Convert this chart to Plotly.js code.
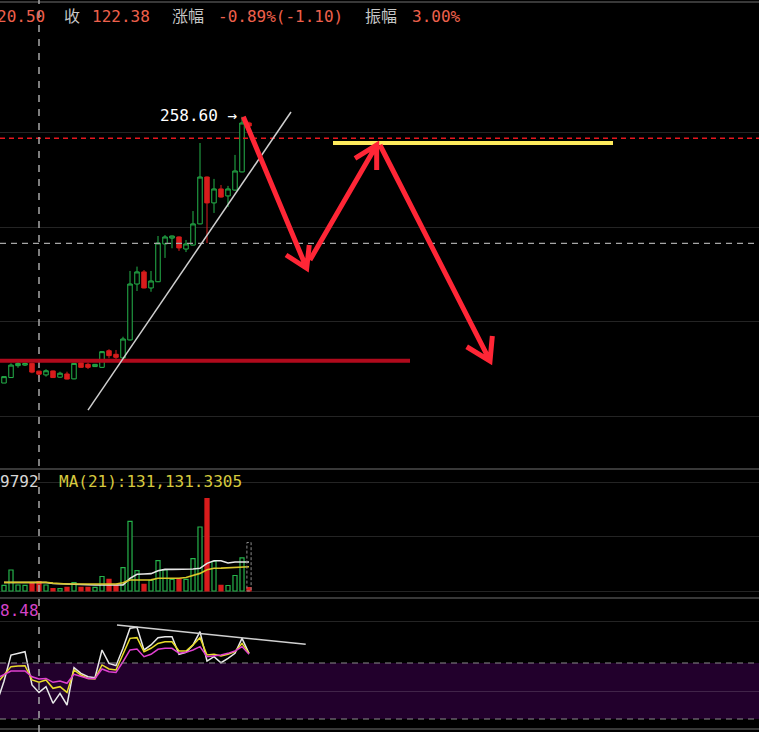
<!DOCTYPE html>
<html><head><meta charset="utf-8">
<script src="https://cdn.plot.ly/plotly-3.0.1.min.js"></script>
<style>html,body{margin:0;padding:0;background:#000;overflow:hidden}#chart{width:759px;height:732px}</style>
</head><body><div id="chart"></div>
<script>
// ---------------- data ----------------
const candleIndex = [0,1,2,3,4,5,6,7,8,9,10,11,12,13,14,15,16,17,18,19,20,21,22,23,24,25,26,27,28,29,30,31,32,33,34,35];
const openP  = [117.7,120.6,126.9,127.2,128.1,124.0,122.0,124.1,120.8,122.5,119.9,128.4,127.6,126.4,126.0,134.8,132.9,131.0,140.5,170.1,176.5,168.0,171.3,191.3,194.4,195.0,188.6,190.7,201.9,226.7,213.0,220.4,216.7,219.8,229.4,255.3];
const highP  = [121.1,128.1,129.0,128.5,128.5,124.2,125.0,124.3,123.7,123.7,128.3,128.8,128.5,127.8,134.6,135.6,135.2,142.2,177.0,179.3,177.5,177.0,195.5,196.0,195.7,195.3,193.4,208.7,244.7,227.0,225.7,222.5,222.0,238.4,258.6,256.0];
const lowP   = [117.7,120.6,125.8,126.7,122.9,120.5,121.1,120.4,120.6,119.6,119.7,125.8,125.1,126.2,125.8,130.8,129.0,130.8,140.3,166.4,167.8,166.0,171.1,183.9,189.0,187.6,187.0,190.5,201.7,191.8,207.7,215.8,210.8,219.5,229.2,253.0];
const closeP = [121.1,127.2,128.1,128.1,123.48,122.38,124.2,120.6,122.9,119.8,128.1,126.0,126.0,127.6,134.3,132.2,131.3,141.0,170.1,176.5,168.0,171.7,191.8,195.0,195.5,189.2,191.3,201.9,226.7,213.0,220.4,216.1,220.4,229.9,255.3,253.7];

const volume = [86,316,90,86,120,143,90,35,35,56,128,56,56,56,218,176,86,351,1049,306,101,161,456,316,176,181,176,488,963,1392,444,86,83,233,500,53];
const volProjected = 730;
const volMA21  = [130,131,131,131,132,131,131,118,106,105,105,104,104,104,105,105,106,125,166,166,166,168,191,191,192,193,203,229,265,321,342,344,348,352,358,366];
const volMAw   = [128,128,128,128,128,128,128,112,108,106,92,90,90,90,90,90,90,92,191,251,256,261,306,326,326,326,326,331,342,416,456,456,421,436,436,436];

const rsiIndex = [-1,0,1,2,3,4,5,6,7,8,9,10,11,12,13,14,15,16,17,18,19,20,21,22,23,24,25,26,27,28,29,30,31,32,33,34,35];
const rsiWhite  = [42,57,75.7,76.7,78.1,54.3,49.0,53.1,41.2,48.3,40.0,66.7,62.6,60.2,59.5,79.3,69.8,68.1,80.5,94.8,95.5,79.3,82.9,88.1,88.8,88.8,76.2,77.6,82.9,92.4,71.4,74.5,70.2,73.3,76.9,87.6,76.9];
const rsiYellow = [55.5,61.1,67.4,67.8,68.1,57.9,56.2,57.9,51.9,53.1,49.0,65.0,61.4,59.0,58.6,68.6,65.7,65.0,75.7,87.6,88.1,78.1,80.5,84.0,85.2,85.2,78.6,78.6,82.9,88.1,75.7,76.2,75.0,76.2,78.1,84.0,76.9];
const rsiMagenta= [59.2,61.6,64.3,64.3,64.3,60.2,58.6,59.0,56.2,57.1,55.5,61.9,60.2,59.0,59.0,65.7,63.8,63.3,70.9,79.3,80.0,74.5,76.2,79.8,80.5,80.5,76.9,77.6,79.3,81.7,74.5,75.0,75.7,76.9,78.6,81.7,76.2];

const cursorIndex = 5;
const redDashLevel = 247.2;
const greyDashLevel = 191.6;
const supportLevel = 129.5;
const resistLevel = 244.7;
const rsiUpper = 70, rsiLower = 30;

const headerItems = [
  ['20.50', -5, 'v'], ['收', 62, 'l'], ['122.38', 90, 'v'], ['涨幅', 170, 'l'],
  ['-0.89%(-1.10)', 216, 'v'], ['振幅', 363, 'l'], ['3.00%', 410, 'v']
];
const volLabels = [['9792', -2, '#d6d6d6'], ['MA(21):131,131.3305', 57, '#d6c93e']];
const rsiLabels = [['8.48', -2, '#d443c8']];

// ---------------- helpers ----------------
const W = 759, H = 732;
const PX = p => p / W;
const PY = p => 1 - p / H;
const GREEN = '#25b34b', RED = '#d81c1c';
const MONO = 'DejaVu Sans Mono, Noto Sans CJK SC, monospace';

const isUp = candleIndex.map((_, i) => closeP[i] >= openP[i]);

const traces = [
  {
    type: 'candlestick', x: candleIndex, open: openP, high: highP, low: lowP, close: closeP,
    xaxis: 'x', yaxis: 'y', whiskerwidth: 0,
    increasing: {line: {color: GREEN, width: 1}, fillcolor: '#000'},
    decreasing: {line: {color: RED, width: 1}, fillcolor: RED},
    hoverinfo: 'skip', showlegend: false
  },
  {
    type: 'bar', x: candleIndex, y: volume, xaxis: 'x', yaxis: 'y2', width: 0.58,
    marker: {color: isUp.map(u => u ? '#000' : RED), line: {color: isUp.map(u => u ? GREEN : RED), width: 1.2}},
    hoverinfo: 'skip', showlegend: false
  },
  {type: 'scatter', mode: 'lines', x: candleIndex, y: volMAw, xaxis: 'x', yaxis: 'y2',
   line: {color: '#e6e6e6', width: 1.6}, hoverinfo: 'skip', showlegend: false},
  {type: 'scatter', mode: 'lines', x: candleIndex, y: volMA21, xaxis: 'x', yaxis: 'y2',
   line: {color: '#d9c62a', width: 1.6}, hoverinfo: 'skip', showlegend: false},
  {type: 'scatter', mode: 'lines', x: rsiIndex, y: rsiWhite, xaxis: 'x', yaxis: 'y3',
   line: {color: '#e8e8e8', width: 1.5}, hoverinfo: 'skip', showlegend: false},
  {type: 'scatter', mode: 'lines', x: rsiIndex, y: rsiYellow, xaxis: 'x', yaxis: 'y3',
   line: {color: '#e8dc2a', width: 1.5}, hoverinfo: 'skip', showlegend: false},
  {type: 'scatter', mode: 'lines', x: rsiIndex, y: rsiMagenta, xaxis: 'x', yaxis: 'y3',
   line: {color: '#e040d0', width: 1.5}, hoverinfo: 'skip', showlegend: false}
];

const lastI = candleIndex[candleIndex.length - 1];
let maxI = 0; highP.forEach((h, i) => { if (h > highP[maxI]) maxI = i; });

const shapes = [];
// panel borders
[2, 469, 598, 729].forEach(p => shapes.push({type: 'line', xref: 'paper', yref: 'paper', x0: 0, x1: 1, y0: PY(p), y1: PY(p), line: {color: '#383838', width: 2}, layer: 'below'}));
// RSI band
shapes.push({type: 'rect', xref: 'paper', yref: 'y3', x0: 0, x1: 1, y0: rsiLower, y1: rsiUpper, fillcolor: '#22002c', line: {width: 0}, layer: 'below'});
[rsiUpper, rsiLower].forEach(v => shapes.push({type: 'line', xref: 'paper', yref: 'y3', x0: 0, x1: 1, y0: v, y1: v, line: {color: '#8a8a8a', width: 1, dash: '6px,5px'}}));
// price dashed levels
shapes.push({type: 'line', xref: 'paper', yref: 'y', x0: 0, x1: 1, y0: redDashLevel, y1: redDashLevel, line: {color: '#e8161e', width: 1.4, dash: '5px,4px'}});
shapes.push({type: 'line', xref: 'paper', yref: 'y', x0: 0, x1: 1, y0: greyDashLevel, y1: greyDashLevel, line: {color: '#a6a6a6', width: 1.3, dash: '6px,5px'}});
// cursor
shapes.push({type: 'line', xref: 'x', yref: 'paper', x0: cursorIndex, x1: cursorIndex, y0: 0, y1: 1, line: {color: '#a8a8a8', width: 1.5, dash: '7px,7px'}});
// support / resistance
shapes.push({type: 'line', xref: 'x', yref: 'y', x0: -3, x1: 58, y0: supportLevel, y1: supportLevel, line: {color: '#b00a1c', width: 4}});
shapes.push({type: 'line', xref: 'x', yref: 'y', x0: 47, x1: 87, y0: resistLevel, y1: resistLevel, line: {color: '#fdea5c', width: 4}});
// trend line
shapes.push({type: 'line', xref: 'x', yref: 'y', x0: 12, y0: 103.4, x1: 41, y1: 261.1, line: {color: '#cfcfcf', width: 1.5}});
// red arrows
const arrowPaths = [
  'M34.19,258.6 L43.24,178.4 M40.29,185.45 L43.24,178.4 L43.61,190.7',
  'M43.71,182.8 L53.24,243.65 M50.14,236.6 L53.24,243.65 L53.24,230.4',
  'M53.71,243.65 L69.43,129.4 M66.1,136.9 L69.43,129.4 L69.76,142.6'
];
arrowPaths.forEach(p => shapes.push({type: 'path', xref: 'x', yref: 'y', path: p, line: {color: '#ff2636', width: 5}}));
// RSI trend line
shapes.push({type: 'line', xref: 'x', yref: 'y3', x0: 16.14, y0: 97.1, x1: 43.1, y1: 83.4, line: {color: '#d0d0d0', width: 1.5}});
// projected volume
shapes.push({type: 'rect', xref: 'x', yref: 'y2', x0: lastI - 0.3, x1: lastI + 0.3, y0: 0, y1: volProjected, line: {color: '#8c8c8c', width: 1, dash: '3px,2px'}});

const annotations = [];
headerItems.forEach(([t, px, k]) => annotations.push({xref: 'paper', yref: 'paper', x: PX(px), y: PY(17), xanchor: 'left', yanchor: 'middle', showarrow: false, text: t,
  font: {family: MONO, size: 16, color: k === 'v' ? '#ee604c' : '#c6c6c6'}}));
volLabels.forEach(([t, px, c]) => annotations.push({xref: 'paper', yref: 'paper', x: PX(px), y: PY(482), xanchor: 'left', yanchor: 'middle', showarrow: false, text: t, font: {family: MONO, size: 16, color: c}}));
rsiLabels.forEach(([t, px, c]) => annotations.push({xref: 'paper', yref: 'paper', x: PX(px), y: PY(610), xanchor: 'left', yanchor: 'middle', showarrow: false, text: t, font: {family: MONO, size: 16, color: c}}));
annotations.push({xref: 'x', yref: 'y', x: candleIndex[maxI], y: highP[maxI], xanchor: 'right', yanchor: 'middle', xshift: -3, yshift: 1, showarrow: false,
  text: highP[maxI].toFixed(2) + ' →', font: {family: MONO, size: 16, color: '#ffffff'}});

const gridC = 'rgba(255,255,255,0.14)';
const layout = {
  width: W, height: H, margin: {l: 0, r: 0, t: 0, b: 0, pad: 0},
  paper_bgcolor: '#000', plot_bgcolor: 'rgba(0,0,0,0)', showlegend: false, hovermode: false,
  boxgap: 0.36, boxgroupgap: 0, bargap: 0,
  xaxis: {domain: [0, 1], range: [-4/7, 755/7], anchor: 'y3', showgrid: false, zeroline: false, showline: false, showticklabels: false, ticks: '', rangeslider: {visible: false}, fixedrange: true},
  yaxis: {domain: [PY(469), PY(38)], range: [72.22, 300.26], anchor: 'x', tick0: 0, dtick: 50, showgrid: true, gridcolor: gridC, gridwidth: 1, zeroline: false, showticklabels: false, ticks: '', fixedrange: true},
  yaxis2: {domain: [PY(598), PY(469)], range: [-105.3, 1836], anchor: 'x', tick0: 0, dtick: 820, showgrid: true, gridcolor: gridC, zeroline: false, showticklabels: false, ticks: '', fixedrange: true},
  yaxis3: {domain: [PY(729), PY(598)], range: [22.86, 116.43], anchor: 'x', tick0: 0, dtick: 50, showgrid: true, gridcolor: gridC, zeroline: false, showticklabels: false, ticks: '', fixedrange: true},
  shapes: shapes, annotations: annotations
};
Plotly.newPlot('chart', traces, layout, {staticPlot: true, displayModeBar: false});
</script></body></html>
